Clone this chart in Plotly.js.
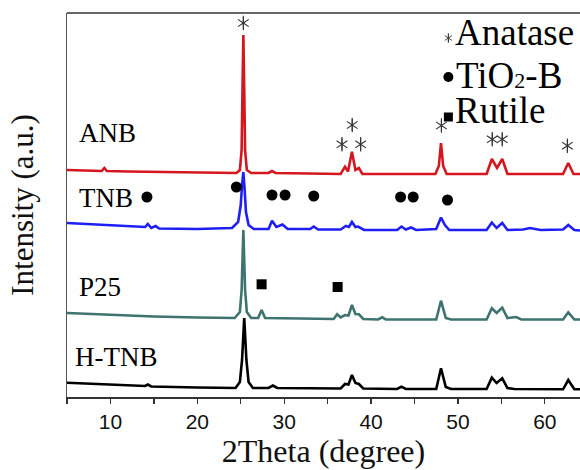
<!DOCTYPE html>
<html>
<head>
<meta charset="utf-8">
<script src="https://cdn.plot.ly/plotly-3.0.1.min.js"></script>
<style>
html,body{margin:0;padding:0;background:#fff;overflow:hidden;}
#chart{width:580px;height:470px;}
</style>
</head>
<body>
<div id="chart"></div>
<script>
// ---- Data (2Theta in degrees, intensity in a.u., offset stacked) ----
var anbX = [5, 8, 9.0, 9.3, 9.6, 12, 16, 20, 23, 24.5, 24.9, 25.1, 25.2, 25.3, 25.4, 25.5, 25.7, 26.2, 28.2, 28.6, 29.0, 33, 36.5, 37.0, 37.35, 37.8, 38.2, 38.6, 39.0, 43, 47.4, 47.8, 48.05, 48.3, 48.7, 53.3, 53.9, 54.5, 55.1, 55.7, 58, 62.1, 62.7, 63.3, 64.05];
var anbY = [227, 226, 226, 229, 226, 225.5, 225, 224.5, 224, 224, 227, 247, 307, 362, 307, 247, 227, 224, 224, 226, 224, 223.5, 223, 230.3, 225.5, 245.3, 227, 229, 223, 223, 223, 231, 254, 231, 223, 223, 238, 229, 238, 223, 223, 223, 234, 223, 223];

var tnbX = [5, 10, 14.0, 14.3, 14.7, 15.2, 15.6, 20, 24.0, 24.7, 25.0, 25.15, 25.3, 25.45, 25.6, 25.9, 26.5, 28.2, 28.6, 29.1, 29.8, 30.4, 33.0, 33.4, 33.9, 36.5, 37.1, 37.45, 37.8, 38.2, 38.5, 39.2, 43.0, 43.5, 44.0, 44.6, 45.2, 47.5, 48.05, 48.5, 49.0, 53.3, 53.9, 54.45, 55.1, 55.7, 57.5, 58.3, 59.5, 62.1, 62.7, 63.4, 64.05];
var tnbY = [174, 172, 170, 173, 169, 171, 168.5, 168, 169, 175, 192, 212, 225, 207, 185, 172, 168, 168, 176.3, 170, 172.5, 168, 168, 170.5, 167.5, 167.5, 171, 170, 175, 170, 170.5, 167, 167, 170.5, 167.5, 169.5, 167, 168, 179.5, 172, 167, 167, 174.5, 169, 174, 167, 167.5, 169, 167, 167.5, 172, 167, 166.5];

var p25X = [5, 10, 15, 20, 24.3, 24.9, 25.1, 25.3, 25.5, 25.7, 26.2, 27.0, 27.4, 27.8, 35.7, 36.1, 36.5, 37.0, 37.4, 37.8, 38.2, 38.6, 39.1, 40.8, 41.3, 41.7, 47.5, 48.05, 48.6, 49.2, 53.3, 53.9, 54.45, 55.1, 55.7, 56.7, 57.3, 62.1, 62.7, 63.4, 64.05];
var p25Y = [84, 82, 80.5, 79.5, 79, 85, 107, 167, 107, 85, 79, 79, 87, 79, 78, 82.7, 79.5, 82, 81.5, 92, 83, 82.7, 78, 77.5, 79.7, 77.5, 77.5, 96.3, 79, 77.5, 77.5, 88.7, 84, 89.3, 79, 80, 77.5, 77.5, 84.7, 77.5, 77.5];

var htnbX = [5, 10, 14, 14.3, 14.7, 20, 24.4, 24.9, 25.15, 25.4, 25.65, 25.9, 26.4, 28.2, 28.7, 29.2, 36.5, 37.0, 37.4, 37.8, 38.2, 38.6, 39.1, 43.0, 43.5, 44.0, 47.5, 48.05, 48.6, 49.2, 53.3, 53.9, 54.45, 55.1, 55.7, 56.5, 62.1, 62.7, 63.4, 64.05];
var htnbY = [14.3, 12.5, 11, 12.5, 10.5, 9.5, 9, 15, 37, 79, 37, 15, 9, 9, 11.5, 9, 8.5, 13, 12.5, 22, 14, 13, 8.5, 8, 10.3, 8, 8, 28.7, 10, 8, 8, 19.3, 14, 18.7, 9, 8, 7.7, 17, 7.7, 7.7];

// phase markers
var anataseX = [25.3, 36.65, 37.83, 38.8, 48.1, 53.95, 55.1, 62.6];
var anataseY = [374, 252.7, 272, 252.7, 271.5, 257.7, 257.7, 251.3];
var tio2bX = [14.2, 24.5, 28.6, 30.1, 33.4, 43.4, 44.85, 48.8];
var tio2bY = [200, 210, 202, 202, 201, 200, 200, 197];
var rutileX = [27.4, 36.15];
var rutileY = [112.7, 110];

// sample names and legend texts
var sampleNames = ["ANB", "TNB", "P25", "H-TNB"];
var legendNames = ["Anatase", "TiO<span style=\"font-size:22px\">2</span>-B", "Rutile"];

var serif = "Liberation Serif, Times New Roman, serif";
var sans = "Liberation Sans, Arial, sans-serif";

function star(xs, ys, size, w) {
  // six-armed asterisk built from two three-armed marks
  return ["y-up-open", "y-down-open"].map(function (s) {
    return {x: xs, y: ys, mode: "markers", cliponaxis: false,
            marker: {symbol: s, size: size, color: "#333", line: {color: "#333", width: w}}};
  }).concat([{x: xs, y: ys, mode: "markers", cliponaxis: false,
            marker: {symbol: "line-ns-open", size: size * 0.95, color: "#333", line: {color: "#333", width: w}}}]);
}

var traces = [
  {x: htnbX, y: htnbY, mode: "lines", line: {color: "#000000", width: 2.6}},
  {x: p25X, y: p25Y, mode: "lines", line: {color: "#3e7370", width: 2.6}},
  {x: tnbX, y: tnbY, mode: "lines", line: {color: "#1e1ef5", width: 2.6}},
  {x: anbX, y: anbY, mode: "lines", line: {color: "#d4161e", width: 2.6}},
  {x: tio2bX, y: tio2bY, mode: "markers", cliponaxis: false,
   marker: {symbol: "circle", size: 11, color: "#000"}},
  {x: rutileX, y: rutileY, mode: "markers", cliponaxis: false,
   marker: {symbol: "square", size: 10, color: "#000"}},
  // legend symbols
  {x: [48.9], y: [320], mode: "markers", cliponaxis: false,
   marker: {symbol: "circle", size: 10, color: "#000"}},
  {x: [48.9], y: [280], mode: "markers", cliponaxis: false,
   marker: {symbol: "square", size: 9, color: "#000"}}
].concat(star(anataseX, anataseY, 9, 1.1)).concat(star([48.9], [359], 6, 0.9));

var labelPos = [[6.2, 264], [6.2, 199], [6.2, 110], [5.65, 40]];
var annotations = sampleNames.map(function (n, i) {
  return {x: labelPos[i][0], y: labelPos[i][1], xref: "x", yref: "y", text: n,
          showarrow: false, xanchor: "left", yanchor: "middle",
          font: {family: serif, size: 27, color: "#000"}};
});
var legPos = [[49.45, 365], [49.5, 322], [49.45, 287]];
legendNames.forEach(function (n, i) {
  annotations.push({x: legPos[i][0], y: legPos[i][1], xref: "x", yref: "y", text: n,
    showarrow: false, xanchor: "left", yanchor: "middle",
    font: {family: serif, size: 37, color: "#000"}});
});

var layout = {
  width: 580, height: 470,
  margin: {l: 67, r: 0, t: 13, b: 73},
  paper_bgcolor: "#fff", plot_bgcolor: "#fff",
  showlegend: false,
  xaxis: {
    range: [5, 64.05], tick0: 0, dtick: 10, ticks: "outside", ticklen: 5, tickwidth: 1.3,
    tickcolor: "#333", showline: true, linecolor: "#333", linewidth: 1.5,
    showgrid: false, zeroline: false,
    minor: {dtick: 5, ticks: "outside", ticklen: 5, tickwidth: 1.3, tickcolor: "#333", showgrid: false},
    tickfont: {family: sans, size: 21, color: "#111"},
    title: {text: "2Theta (degree)", font: {family: serif, size: 32, color: "#111"}, standoff: 6}
  },
  yaxis: {
    range: [0, 384], showticklabels: false, ticks: "", showgrid: false, zeroline: false,
    showline: true, linecolor: "#555", linewidth: 1.5,
    title: {text: "Intensity (a.u.)", font: {family: serif, size: 31, color: "#111"}, standoff: 22}
  },
  shapes: [{type: "line", xref: "paper", yref: "paper", x0: 0, x1: 1, y0: 1, y1: 1,
            line: {color: "#333", width: 1.5}}],
  annotations: annotations
};

Plotly.newPlot("chart", traces, layout, {displayModeBar: false, staticPlot: true});
</script>
</body>
</html>
